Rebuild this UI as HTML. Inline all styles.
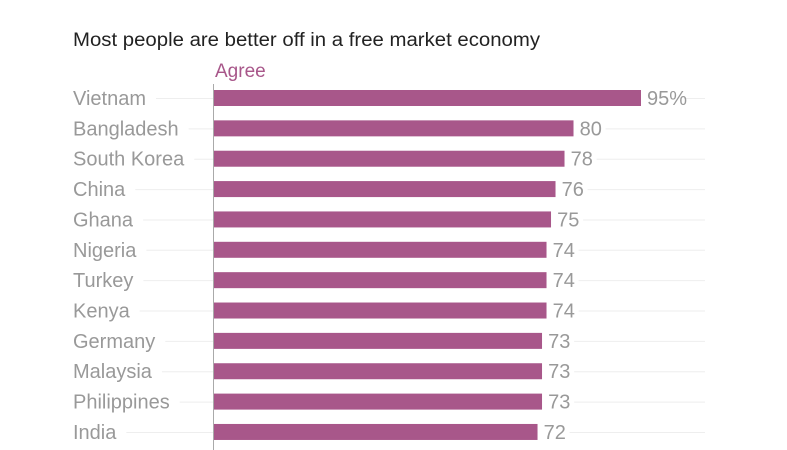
<!DOCTYPE html>
<html><head><meta charset="utf-8">
<style>
html,body{margin:0;padding:0;background:#fff;}
svg{display:block;font-family:"Liberation Sans",sans-serif;}
</style></head>
<body>
<svg id="chart" width="787" height="450" viewBox="0 0 787 450" xmlns="http://www.w3.org/2000/svg">
<text x="73" y="46" font-size="19" fill="#222" textLength="467" lengthAdjust="spacingAndGlyphs">Most people are better off in a free market economy</text>
<text x="215" y="77" font-size="19" fill="#a8578a">Agree</text>
<g id="grid"></g>
<g id="bars"></g>
<line x1="213.5" y1="84" x2="213.5" y2="450" stroke="#aaa" stroke-width="1"/>
</svg>
<script>
const categories = ["Vietnam","Bangladesh","South Korea","China","Ghana","Nigeria","Turkey","Kenya","Germany","Malaysia","Philippines","India"];
const agreeValues = [95,80,78,76,75,74,74,74,73,73,73,72];
const valueLabels = ["95%","80","78","76","75","74","74","74","73","73","73","72"];

const NS="http://www.w3.org/2000/svg";
const x0=214, pxPerUnit=427/95;
const xScale=v=>x0+v*pxPerUnit;
const rowY=i=>98+i*30.36;
const grid=document.getElementById('grid'), bars=document.getElementById('bars');
function mk(tag,attrs,parent){const e=document.createElementNS(NS,tag);for(const k in attrs)e.setAttribute(k,attrs[k]);parent.appendChild(e);return e;}
categories.forEach((c,i)=>{
  const y=rowY(i);
  const lbl=mk('text',{x:73,y:y+7,'font-size':20,fill:'#999'},grid);
  
  
  lbl.textContent=c;
  const w=lbl.getComputedTextLength();
  const gl=mk('line',{x1:73+w+10,y1:y+0.5,x2:705,y2:y+0.5,stroke:'#eee','stroke-width':1},grid);
  
  
  const b=mk('rect',{x:x0,y:y-8,width:xScale(agreeValues[i])-x0,height:16,fill:'#a8578a'},bars);
  
  
  const bg=mk('rect',{x:xScale(agreeValues[i]),y:y-10,width:valueLabels[i].length*11+10,height:20,fill:'#fff'},bars);
  
  
  const v=mk('text',{x:xScale(agreeValues[i])+6,y:y+7,'font-size':20,fill:'#999'},bars);
  
  
  v.textContent=valueLabels[i];
});
</script>
</body></html>
